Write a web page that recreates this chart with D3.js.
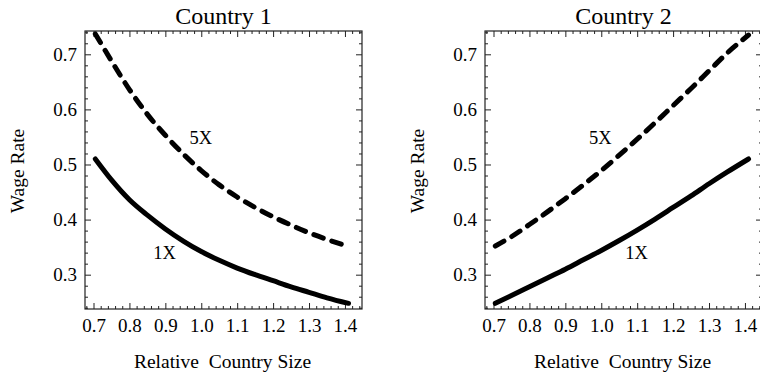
<!DOCTYPE html>
<html><head><meta charset="utf-8">
<script src="https://cdn.jsdelivr.net/npm/d3@7"></script>
<style>
html,body{margin:0;padding:0;background:#fff;}
svg{display:block;}
svg text{font-family:"Liberation Serif" !important;fill:#000;}
</style></head>
<body>
<svg id="chart" width="760" height="377"></svg>
<script>
// ---- data ----
const titles = ["Country 1", "Country 2"];
const xLabel = "Relative  Country Size";
const yLabel = "Wage Rate";
const xTicks = [0.7, 0.8, 0.9, 1.0, 1.1, 1.2, 1.3, 1.4];
const yTicks = [0.3, 0.4, 0.5, 0.6, 0.7];
const sizes = [0.705, 0.75, 0.80, 0.85, 0.90, 0.95, 1.00, 1.05, 1.10, 1.15, 1.20, 1.25, 1.30, 1.35, 1.41];
const c1_1X = [0.510, 0.472, 0.436, 0.408, 0.383, 0.361, 0.342, 0.326, 0.312, 0.300, 0.289, 0.278, 0.268, 0.258, 0.248];
const c1_5X = [0.737, 0.688, 0.636, 0.591, 0.553, 0.519, 0.489, 0.463, 0.441, 0.422, 0.405, 0.390, 0.376, 0.364, 0.351];
const c2_1X = [0.248, 0.262, 0.278, 0.294, 0.310, 0.327, 0.344, 0.362, 0.381, 0.401, 0.422, 0.443, 0.465, 0.486, 0.510];
const c2_5X = [0.352, 0.369, 0.391, 0.414, 0.438, 0.463, 0.489, 0.517, 0.546, 0.576, 0.607, 0.638, 0.670, 0.702, 0.735];
const seriesNames = ["1X", "5X"];
// label anchor points (data coords)
const labelPos = [
  {"1X": [0.898, 0.3285], "5X": [0.999, 0.537]},
  {"1X": [1.098, 0.3285], "5X": [0.997, 0.537]}
];

// ---- layout ----
const svg = d3.select("#chart");
const FONT = "Liberation Serif";
const panelW = 277, plotTop = 31, plotBottom = 309;
const panelLeft = [85, 485];
const xDomain = [0.6763, 1.4475];
const yDomain = [0.2377, 0.7423];

function minorVals(lo, hi, step){
  const out=[]; for(let v=Math.ceil(lo/step-1e-9)*step; v<=hi+1e-9; v+=step){ out.push(+v.toFixed(4)); } return out;
}

const panels = [
  {one: c1_1X, five: c1_5X},
  {one: c2_1X, five: c2_5X}
];

panels.forEach((p, i) => {
  const L = panelLeft[i];
  const x = d3.scaleLinear().domain(xDomain).range([L, L + panelW]);
  const y = d3.scaleLinear().domain(yDomain).range([plotBottom, plotTop]);
  const g = svg.append("g");

  const xMinor = minorVals(xDomain[0], xDomain[1], 0.02).filter(v => !xTicks.some(t => Math.abs(t-v) < 1e-6));
  const yMinor = minorVals(yDomain[0], yDomain[1], 0.02).filter(v => !yTicks.some(t => Math.abs(t-v) < 1e-6));

  function styleAxis(sel){
    sel.attr("font-family", FONT).attr("font-size", 19);
    sel.select(".domain").remove();
    sel.selectAll("line").attr("stroke", "#222").attr("stroke-width", 1);
    sel.selectAll("text").attr("font-size", "19px").attr("fill", "#000").attr("font-family", FONT);
  }
  // bottom
  g.append("g").attr("transform", `translate(0,${plotBottom})`)
    .call(d3.axisBottom(x).tickValues(xTicks).tickSize(-6).tickPadding(9.5).tickFormat(d3.format(".1f")))
    .call(styleAxis);
  g.append("g").attr("transform", `translate(0,${plotBottom})`)
    .call(d3.axisBottom(x).tickValues(xMinor).tickSize(-3).tickFormat(""))
    .call(styleAxis);
  // top
  g.append("g").attr("transform", `translate(0,${plotTop})`)
    .call(d3.axisTop(x).tickValues(xTicks).tickSize(-6).tickFormat(""))
    .call(styleAxis);
  g.append("g").attr("transform", `translate(0,${plotTop})`)
    .call(d3.axisTop(x).tickValues(xMinor).tickSize(-3).tickFormat(""))
    .call(styleAxis);
  // left
  g.append("g").attr("transform", `translate(${L},0)`)
    .call(d3.axisLeft(y).tickValues(yTicks).tickSize(-6).tickPadding(8).tickFormat(d3.format(".1f")))
    .call(styleAxis);
  g.append("g").attr("transform", `translate(${L},0)`)
    .call(d3.axisLeft(y).tickValues(yMinor).tickSize(-3).tickFormat(""))
    .call(styleAxis);
  // right
  g.append("g").attr("transform", `translate(${L+panelW},0)`)
    .call(d3.axisRight(y).tickValues(yTicks).tickSize(-6).tickFormat(""))
    .call(styleAxis);
  g.append("g").attr("transform", `translate(${L+panelW},0)`)
    .call(d3.axisRight(y).tickValues(yMinor).tickSize(-3).tickFormat(""))
    .call(styleAxis);

  // frame
  g.append("rect").attr("x", L).attr("y", plotTop).attr("width", panelW).attr("height", plotBottom - plotTop)
    .attr("fill", "none").attr("stroke", "#222").attr("stroke-width", 1.2);

  // curves
  const line = d3.line().x((d, k) => x(sizes[k])).y(d => y(d)).curve(d3.curveMonotoneX);
  g.append("path").datum(p.one).attr("d", line)
    .attr("fill", "none").attr("stroke", "#000").attr("stroke-width", 5)
    .attr("stroke-linecap", "round").attr("stroke-linejoin", "round");
  g.append("path").datum(p.five).attr("d", line)
    .attr("fill", "none").attr("stroke", "#000").attr("stroke-width", 5)
    .attr("stroke-linecap", "round").attr("stroke-dasharray", "10,9");

  // curve labels
  seriesNames.forEach(s => {
    const pos = labelPos[i][s];
    g.append("text").attr("x", x(pos[0])).attr("y", y(pos[1]))
      .attr("text-anchor", "middle").attr("font-size", "18.5px").text(s);
  });

  // title
  g.append("text").attr("x", L + panelW/2).attr("y", 24)
    .attr("text-anchor", "middle").attr("font-size", "24px").text(titles[i]);
  // x label
  g.append("text").attr("x", L + panelW/2 - 1).attr("y", 368)
    .attr("text-anchor", "middle").attr("font-size", "19.5px")
    .style("white-space", "pre").text(xLabel);
  // y label
  g.append("text").attr("transform", `translate(${L - 61},${(plotTop+plotBottom)/2 + 1}) rotate(-90)`)
    .attr("text-anchor", "middle").attr("font-size", "19.5px").text(yLabel);
});
svg.selectAll("text").attr("font-family", FONT).style("font-family", FONT);
</script>
</body></html>
